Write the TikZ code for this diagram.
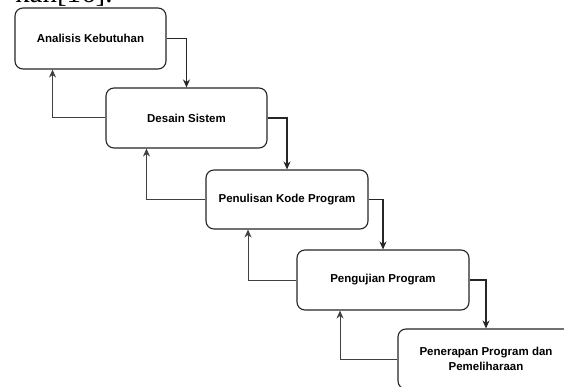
\documentclass[tikz,border=0pt]{standalone}
\usepackage{fontspec}
\setmainfont{Liberation Serif}
\setsansfont{Liberation Sans}
\usetikzlibrary{arrows.meta}

\tikzset{
  tahap/.style={draw=black!85, line width=1.1pt, rounded corners=8pt, align=center,
    inner sep=0pt, font=\sffamily\bfseries\fontsize{11.5}{14.5}\selectfont},
  maju/.style={-{Stealth[length=8pt,width=7pt]}, line width=1.1pt, black!85},
  balik/.style={-{Stealth[length=8pt,width=7pt]}, line width=1pt, black!75}
}

\begin{document}
\begin{tikzpicture}[x=1pt,y=-1pt]
    \useasboundingbox (0,0) rectangle (564,387);
    \clip (0,0) rectangle (564,387);
    \fill[white] (0,0) rectangle (564,387);

    % sisa teks di atas gambar
    \node[anchor=base west, inner sep=0pt, font=\fontsize{29}{30}\selectfont] (sisa) at (15,2.5) {kan[16].};

    % tahapan
    \node[tahap, minimum width=151pt, minimum height=61pt] (analisis) at (90.5,38.5) {Analisis Kebutuhan};
    \node[tahap, minimum width=161pt, minimum height=60pt] (desain) at (186.5,118) {Desain Sistem};
    \node[tahap, minimum width=162pt, minimum height=59pt] (kode) at (287,199.5) {Penulisan Kode Program};
    \node[tahap, minimum width=172pt, minimum height=60pt] (uji) at (383,280) {Pengujian Program};
    \node[tahap, minimum width=176pt, minimum height=60pt] (terap) at (486,359) {Penerapan Program dan\\Pemeliharaan};

    % panah maju
    \draw[maju] (analisis.east) -| (desain.north);
    \draw[maju] (desain.east) -| (kode.north);
    \draw[maju] (kode.east) -| (uji.north);
    \draw[maju] (uji.east) -| (terap.north);

    % panah balik
    \draw[balik] (desain.west) -| ([xshift=-38pt]analisis.south);
    \draw[balik] (kode.west) -| ([xshift=-40pt]desain.south);
    \draw[balik] (uji.west) -| ([xshift=-39pt]kode.south);
    \draw[balik] (terap.west) -| ([xshift=-43pt]uji.south);

\end{tikzpicture}
\end{document}
